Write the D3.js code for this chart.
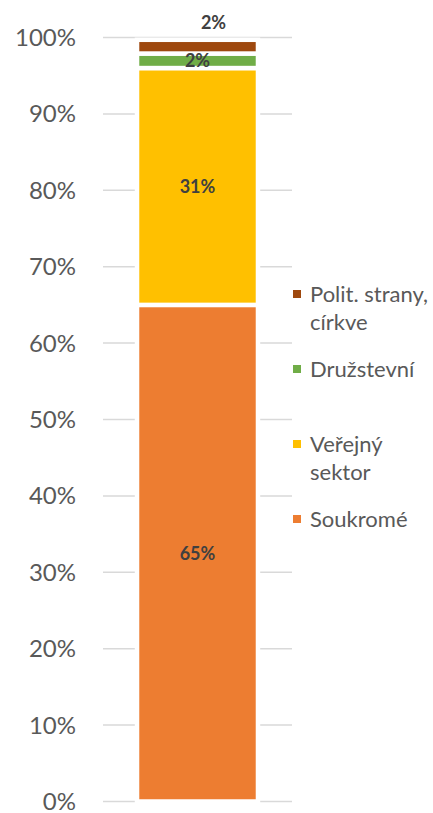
<!doctype html>
<meta charset="utf-8">
<style>
body { margin: 0; background: #fff; }
svg { display: block; font-family: Lato, "Open Sans", sans-serif; }
.tick-label { fill: #595959; font-size: 24px; }
.grid line { stroke: #d9d9d9; stroke-width: 1.5px; }
.value-label { fill: #404040; font-size: 18px; font-weight: bold; }
.legend text { fill: #595959; font-size: 22px; }
</style>
<div id="chart"></div>
<script src="https://cdn.jsdelivr.net/npm/d3@7"></script>
<script>
// stacked from bottom to top
var seriesNames = ['Soukromé', 'Veřejný sektor', 'Družstevní', 'Polit. strany, církve'];
var seriesValues = [65, 31, 1.9, 1.8];
var seriesLabels = ['65%', '31%', '2%', '2%'];
var seriesColors = ['#ed7d31', '#ffc000', '#70ad47', '#9e480e'];
var legendLines = [['Polit. strany,', 'církve'], ['Družstevní'], ['Veřejný', 'sektor'], ['Soukromé']];
var legendColors = ['#9e480e', '#70ad47', '#ffc000', '#ed7d31'];
var tickValues = [0, 10, 20, 30, 40, 50, 60, 70, 80, 90, 100];
</script>
<script>
var width = 433, height = 813;

var svg = d3.select('#chart').append('svg')
    .attr('width', width)
    .attr('height', height);

var y = d3.scaleLinear().domain([0, 100]).range([801.5, 37.5]);
var x = d3.scaleBand().domain(['bar']).range([103, 292]).paddingInner(0).paddingOuter(0.308);

// gridlines
svg.append('g').attr('class', 'grid')
    .selectAll('line').data(tickValues).enter().append('line')
    .attr('x1', 103).attr('x2', 292)
    .attr('y1', function (d) { return y(d); })
    .attr('y2', function (d) { return y(d); });

// axis labels
svg.append('g')
    .selectAll('text').data(tickValues).enter().append('text')
    .attr('class', 'tick-label')
    .attr('x', 76)
    .attr('y', function (d) { return y(d); })
    .attr('dy', '0.35em')
    .attr('text-anchor', 'end')
    .text(function (d) { return d + '%'; });

// stack the segments
var cum = 0;
var segments = seriesValues.map(function (v, i) {
    var s = { name: seriesNames[i], y0: cum, y1: cum + v, label: seriesLabels[i], color: seriesColors[i] };
    cum += v;
    return s;
});

var barX = x('bar') - 2, barW = x.bandwidth() + 4;

svg.append('g')
    .selectAll('rect').data(segments).enter().append('rect')
    .attr('x', barX)
    .attr('width', barW)
    .attr('y', function (d) { return y(d.y1); })
    .attr('height', function (d) { return y(d.y0) - y(d.y1); })
    .attr('fill', function (d) { return d.color; })
    .attr('stroke', '#fff')
    .attr('stroke-width', 4.5);

// value labels (last one sits above the bar, as in the original)
svg.append('g')
    .selectAll('text').data(segments).enter().append('text')
    .attr('class', 'value-label')
    .attr('text-anchor', 'middle')
    .attr('x', function (d, i) { return x('bar') + x.bandwidth() / 2 + (i === 3 ? 16 : 0); })
    .attr('y', function (d, i) {
        return i === 3 ? y(d.y1) - 17 : y((d.y0 + d.y1) / 2);
    })
    .attr('dy', '0.35em')
    .text(function (d) { return d.label; });

// legend
var legend = svg.append('g').attr('class', 'legend')
    .selectAll('g').data(legendLines).enter().append('g')
    .attr('transform', function (d, i) { return 'translate(293,' + (294 + i * 75) + ')'; });

legend.append('rect')
    .attr('x', 0).attr('y', -4)
    .attr('width', 8).attr('height', 8)
    .attr('fill', function (d, i) { return legendColors[i]; });

legend.each(function (lines) {
    var t = d3.select(this).append('text').attr('x', 17).attr('y', 0);
    lines.forEach(function (l, j) {
        t.append('tspan').attr('x', 17).attr('dy', j === 0 ? '0.36em' : 28).text(l);
    });
});
</script>
